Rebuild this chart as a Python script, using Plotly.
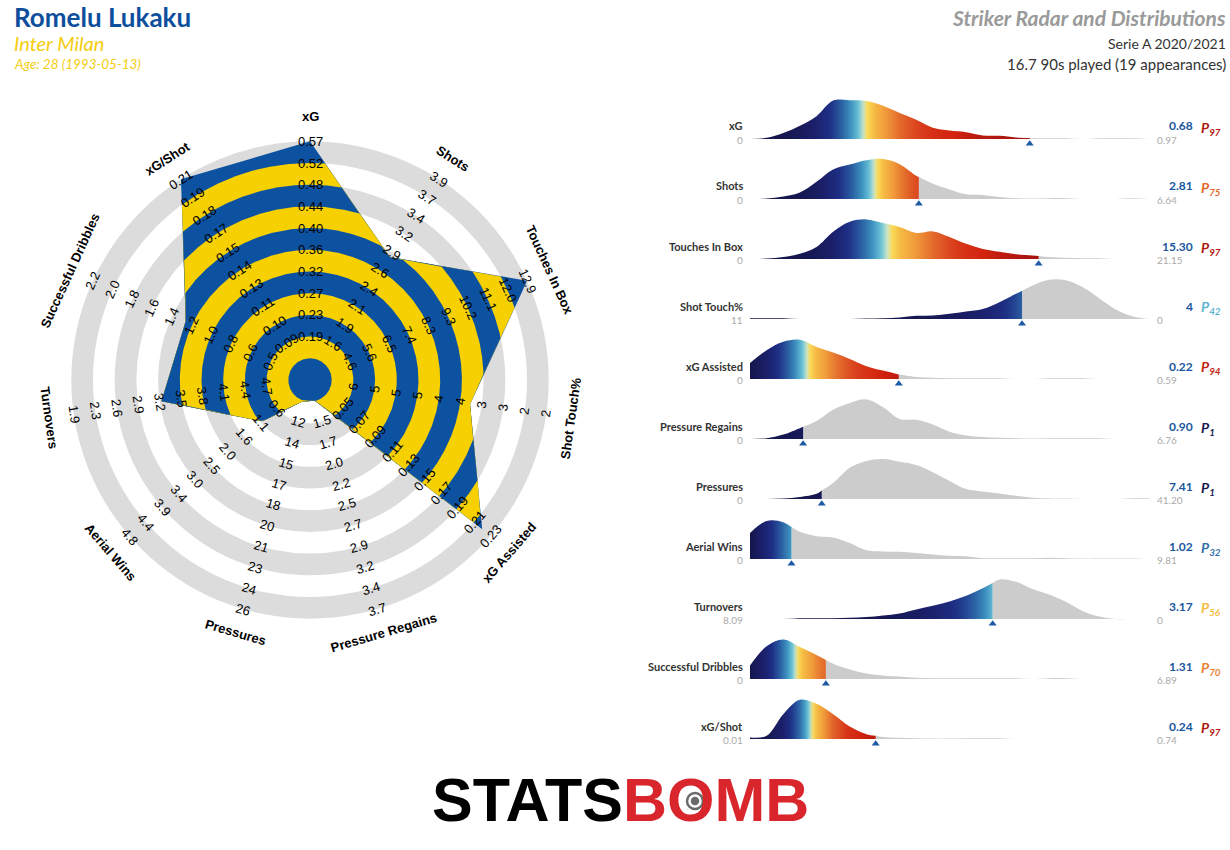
import numpy as np
import plotly.graph_objects as go

W, H = 1230, 850

# ---------------- Radar data ----------------
radar_params = ["xG", "Shots", "Touches In Box", "Shot Touch%", "xG Assisted",
                "Pressure Regains", "Pressures", "Aerial Wins", "Turnovers",
                "Successful Dribbles", "xG/Shot"]
radar_low = [0.15, 1.34, 3.68, 6.4, 0.03, 1.26, 10.4, 0.13, 5.01, 0.31, 0.077]
radar_high = [0.57, 3.9, 12.9, 1.9, 0.23, 3.7, 26.0, 4.8, 1.9, 2.2, 0.21]
player_values = [0.68, 2.81, 15.30, 3.5, 0.22, 0.90, 7.41, 1.02, 3.17, 1.31, 0.24]

ticks_xg = ["0.19", "0.23", "0.27", "0.32", "0.36", "0.40", "0.44", "0.48", "0.52", "0.57"]
ticks_shots = ["1.6", "1.9", "2.1", "2.4", "2.6", "2.9", "3.2", "3.4", "3.7", "3.9"]
ticks_touches = ["4.6", "5.6", "6.5", "7.4", "8.3", "9.3", "10.2", "11.1", "12.0", "12.9"]
ticks_shot_touch = ["6", "5", "5", "5", "4", "4", "3", "3", "2", "2"]
ticks_xga = ["0.05", "0.07", "0.09", "0.11", "0.13", "0.15", "0.17", "0.19", "0.21", "0.23"]
ticks_regains = ["1.5", "1.7", "2.0", "2.2", "2.5", "2.7", "2.9", "3.2", "3.4", "3.7"]
ticks_pressures = ["12", "14", "15", "17", "18", "20", "21", "23", "24", "26"]
ticks_aerial = ["0.6", "1.1", "1.6", "2.0", "2.5", "3.0", "3.4", "3.9", "4.4", "4.8"]
ticks_turnovers = ["4.7", "4.4", "4.1", "3.8", "3.5", "3.2", "2.9", "2.6", "2.3", "1.9"]
ticks_dribbles = ["0.5", "0.6", "0.8", "1.0", "1.2", "1.4", "1.6", "1.8", "2.0", "2.2"]
ticks_xg_shot = ["0.09", "0.10", "0.11", "0.13", "0.14", "0.15", "0.17", "0.18", "0.19", "0.21"]
radar_ticks = [ticks_xg, ticks_shots, ticks_touches, ticks_shot_touch, ticks_xga,
               ticks_regains, ticks_pressures, ticks_aerial, ticks_turnovers,
               ticks_dribbles, ticks_xg_shot]

# ---------------- Distribution data ----------------
dist_left = [0, 0, 0, 11, 0, 0, 0, 0, 8.09, 0, 0.01]
dist_right = [0.97, 6.64, 21.15, 0, 0.59, 6.76, 41.20, 9.81, 0, 6.89, 0.74]
dist_left_labels = ["0", "0", "0", "11", "0", "0", "0", "0", "8.09", "0", "0.01"]
dist_right_labels = ["0.97", "6.64", "21.15", "0", "0.59", "6.76", "41.20", "9.81", "0", "6.89", "0.74"]
value_labels = ["0.68", "2.81", "15.30", "4", "0.22", "0.90", "7.41", "1.02", "3.17", "1.31", "0.24"]
percentiles = [97, 75, 97, 42, 94, 1, 1, 32, 56, 70, 97]

dens_xg = [0, 0.03, 0.15, 0.33, 0.57, 0.96, 0.97, 0.95, 0.83, 0.65, 0.48, 0.28, 0.21, 0.17,
           0.09, 0.08, 0.04, 0.02, 0.02, 0.02, 0.0, 0.02, 0.02, 0.02, 0.0]
dens_shots = [0, 0.01, 0.06, 0.16, 0.43, 0.74, 0.86, 0.97, 1.0, 0.87, 0.58, 0.38, 0.24, 0.12,
              0.10, 0.05, 0.02, 0.01, 0.02, 0.02, 0, 0, 0, 0.02, 0]
dens_touches = [0, 0.01, 0.05, 0.13, 0.30, 0.68, 0.93, 0.99, 0.90, 0.80, 0.65, 0.69, 0.55, 0.38,
                0.25, 0.18, 0.12, 0.09, 0.05, 0.03, 0.02, 0.02, 0.0, 0, 0]
dens_shot_touch = [0.02, 0.02, 0.02, 0, 0, 0, 0, 0.01, 0.02, 0.04, 0.08, 0.09, 0.13, 0.19,
                   0.25, 0.42, 0.63, 0.84, 0.98, 0.97, 0.80, 0.52, 0.24, 0.07, 0]
dens_xga = [0.40, 0.72, 0.93, 0.98, 0.80, 0.66, 0.50, 0.32, 0.21, 0.11, 0.05, 0.03, 0.02, 0.02,
            0.02, 0.02, 0.0, 0.0, 0.02, 0.02, 0.02, 0, 0, 0, 0]
dens_regains = [0, 0.02, 0.11, 0.27, 0.45, 0.73, 0.90, 0.99, 0.80, 0.50, 0.48, 0.36, 0.18, 0.09,
                0.05, 0.03, 0.02, 0.01, 0.02, 0.02, 0.02, 0.02, 0, 0, 0]
dens_pressures = [0, 0, 0.01, 0.05, 0.13, 0.40, 0.78, 0.95, 1.0, 0.93, 0.85, 0.67, 0.45, 0.25,
                  0.19, 0.14, 0.08, 0.03, 0.01, 0.01, 0.0, 0, 0, 0.02, 0.02]
dens_aerial = [0.65, 0.95, 0.92, 0.68, 0.57, 0.54, 0.40, 0.22, 0.19, 0.18, 0.15, 0.11, 0.08, 0.07,
               0.02, 0.02, 0.02, 0.02, 0.03, 0.02, 0.01, 0.01, 0.01, 0.01, 0]
dens_turnovers = [0, 0, 0, 0.02, 0.02, 0.02, 0.03, 0.05, 0.09, 0.14, 0.24, 0.33, 0.44, 0.58,
                  0.77, 0.99, 0.93, 0.75, 0.61, 0.43, 0.20, 0.06, 0.0, 0, 0]
dens_dribbles = [0.34, 0.82, 0.99, 0.80, 0.60, 0.38, 0.24, 0.14, 0.09, 0.06, 0.03, 0.02, 0.02, 0.02,
                 0.02, 0.02, 0.02, 0.0, 0.02, 0.02, 0, 0, 0, 0, 0]
dens_xg_shot = [0.04, 0.08, 0.62, 0.98, 0.88, 0.62, 0.31, 0.12, 0.05, 0.03, 0.02, 0.01, 0.01, 0.02,
                0.02, 0.02, 0, 0, 0, 0, 0, 0, 0, 0, 0]
densities = [dens_xg, dens_shots, dens_touches, dens_shot_touch, dens_xga, dens_regains,
             dens_pressures, dens_aerial, dens_turnovers, dens_dribbles, dens_xg_shot]

# ---------------- Styles ----------------
BLUE = "#0d52a0"
YELLOW = "#f6d000"
RING_GREY = "#dcdcdc"
TEXT_FONT = "Lato"
RADAR_FONT = "Liberation Sans"

cmap_pos = [0.0, 0.10, 0.20, 0.30, 0.38, 0.44, 0.48, 0.51, 0.56, 0.65, 0.75, 0.85, 0.92, 1.0]
cmap_hex = ["#15164b", "#1b1f6a", "#1e2f85", "#2b62a4", "#3f95c2", "#6cc3d5", "#c9e4cd",
            "#fadc5a", "#f6bd45", "#f09a3a", "#e2662a", "#d8391a", "#d2230e", "#9a0f0f"]
cmap_rgb = np.array([[int(h[i:i + 2], 16) for i in (1, 3, 5)] for h in cmap_hex], float)


def cmap(v):
    v = float(np.clip(v, 0, 1))
    r, g, b = (np.interp(v, cmap_pos, cmap_rgb[:, j]) for j in range(3))
    return f"rgb({int(round(r))},{int(round(g))},{int(round(b))})"


fig = go.Figure()
annotations = []
shapes = []

# ---------------- Radar ----------------
RING = 21.7          # px per ring unit
CX, CY = 310, 380    # radar centre (px)
RADAR_W = 615
N = len(radar_params)
theta_deg = np.arange(N) * 360.0 / N
theta = np.radians(theta_deg)

lo = np.array(radar_low)
hi = np.array(radar_high)
vals = np.array(player_values)
r_vert = np.clip(1 + 10 * (vals - lo) / (hi - lo), 1, 11)
vx = r_vert * np.sin(theta)
vy = r_vert * np.cos(theta)

# background rings (grey / white alternating)
for k in range(11, 1, -1):
    shapes.append(dict(type="circle", xref="x", yref="y", x0=-k, x1=k, y0=-k, y1=k,
                       fillcolor=RING_GREY if k % 2 == 1 else "white",
                       line=dict(width=0), layer="below"))

# polygon radius for any direction
phi = np.sort(np.unique(np.concatenate([np.linspace(0, 2 * np.pi, 2201), theta])))
step = 2 * np.pi / N
seg = np.floor(phi / step + 1e-9).astype(int) % N
nxt = (seg + 1) % N
ax_, ay_ = vx[seg], vy[seg]
bx_, by_ = vx[nxt] - ax_, vy[nxt] - ay_
dx_, dy_ = np.sin(phi), np.cos(phi)
rho = (ax_ * by_ - ay_ * bx_) / (dx_ * by_ - dy_ * bx_)

for k in range(10, -1, -1):
    rr = np.minimum(rho, k + 1)
    fig.add_trace(go.Scatter(x=rr * np.sin(phi), y=rr * np.cos(phi), mode="lines",
                             line=dict(width=0), fill="toself",
                             fillcolor=BLUE if k % 2 == 0 else YELLOW,
                             hoverinfo="skip", showlegend=False, xaxis="x", yaxis="y"))


def text_angle(d):
    if d <= 90:
        return d
    if d >= 270:
        return d - 360
    return d - 180


for i in range(N):
    ang = text_angle(theta_deg[i])
    for j, lab in enumerate(radar_ticks[i]):
        rr = j + 2
        annotations.append(dict(x=rr * np.sin(theta[i]), y=rr * np.cos(theta[i]), xref="x", yref="y",
                                text=lab, showarrow=False, textangle=ang,
                                xanchor="center", yanchor="middle",
                                font=dict(family=RADAR_FONT, size=13, color="#000000")))
    rr = 12.15
    annotations.append(dict(x=rr * np.sin(theta[i]), y=rr * np.cos(theta[i]), xref="x", yref="y",
                            text=f"<b>{radar_params[i]}</b>", showarrow=False, textangle=ang,
                            xanchor="center", yanchor="middle",
                            font=dict(family=RADAR_FONT, size=13, color="#000000")))

layout_axes = dict(
    xaxis=dict(domain=[0, RADAR_W / W], range=[-CX / RING, (RADAR_W - CX) / RING],
               visible=False, fixedrange=True),
    yaxis=dict(domain=[0, 1], range=[-(H - CY) / RING, CY / RING], visible=False, fixedrange=True),
)

# ---------------- Distributions ----------------
X0, X1 = 750, 1149
ROW0, ROW_STEP = 139, 60
PEAK = 40.0


def paper(xp, yp):
    return xp / W, 1 - yp / H


for i in range(len(densities)):
    n = i + 2
    base = ROW0 + ROW_STEP * i
    left, right = dist_left[i], dist_right[i]
    layout_axes[f"xaxis{n}"] = dict(domain=[X0 / W, X1 / W], range=[left, right],
                                    visible=False, fixedrange=True, anchor=f"y{n}")
    layout_axes[f"yaxis{n}"] = dict(domain=[1 - (base + 12) / H, 1 - (base - 44) / H],
                                    range=[-12 / PEAK, 44 / PEAK], visible=False,
                                    fixedrange=True, anchor=f"x{n}")
    d = np.array(densities[i], float)
    m = len(d)
    xs = np.linspace(0, 1, m)
    x = left + xs * (right - left)
    seg_area = (d[1:] + d[:-1]) / 2
    cdf = np.concatenate([[0], np.cumsum(seg_area)])
    cdf = cdf / cdf[-1]

    pv = player_values[i]
    t = (pv - left) / (right - left)
    dv = float(np.interp(t, xs, d))
    mask = xs < t
    xc = np.append(x[mask], pv)
    yc = np.append(d[mask], dv)
    xg = np.insert(x[~mask], 0, pv)
    yg = np.insert(d[~mask], 0, dv)

    dlo, dhi = min(left, right), max(left, right)
    u = np.linspace(0, 1, 161)
    tpl = (dlo + u * (dhi - dlo) - left) / (right - left)
    cs = [[float(ui), cmap(c)] for ui, c in zip(u, np.interp(tpl, xs, cdf))]

    fig.add_trace(go.Scatter(x=xg, y=yg, mode="lines", line=dict(width=0, shape="spline"),
                             fill="tozeroy", fillcolor="#cccccc", hoverinfo="skip",
                             showlegend=False, xaxis=f"x{n}", yaxis=f"y{n}"))
    fig.add_trace(go.Scatter(x=xc, y=yc, mode="lines", line=dict(width=0, shape="spline"),
                             fill="tozeroy",
                             fillgradient=dict(type="horizontal", colorscale=cs, start=dlo, stop=dhi),
                             hoverinfo="skip", showlegend=False, xaxis=f"x{n}", yaxis=f"y{n}"))
    fig.add_trace(go.Scatter(x=[pv], y=[-0.12], mode="markers",
                             marker=dict(symbol="triangle-up", size=7, color="#1f5aa6"),
                             hoverinfo="skip", showlegend=False, xaxis=f"x{n}", yaxis=f"y{n}"))

    ax, ay = paper(745, base - 13)
    annotations.append(dict(x=ax, y=ay, xref="paper", yref="paper", xanchor="right", yanchor="middle",
                            text=f"<b>{radar_params[i]}</b>", showarrow=False,
                            font=dict(family=TEXT_FONT, size=11, color="#333333")))
    ax, ay = paper(745, base + 1)
    annotations.append(dict(x=ax, y=ay, xref="paper", yref="paper", xanchor="right", yanchor="middle",
                            text=dist_left_labels[i], showarrow=False,
                            font=dict(family=TEXT_FONT, size=10, color="#aaaaaa")))
    ax, ay = paper(1155, base + 1)
    annotations.append(dict(x=ax, y=ay, xref="paper", yref="paper", xanchor="left", yanchor="middle",
                            text=dist_right_labels[i], showarrow=False,
                            font=dict(family=TEXT_FONT, size=10, color="#aaaaaa")))
    ax, ay = paper(1195, base - 13)
    annotations.append(dict(x=ax, y=ay, xref="paper", yref="paper", xanchor="right", yanchor="middle",
                            text=f"<b>{value_labels[i]}</b>", showarrow=False,
                            font=dict(family=TEXT_FONT, size=12, color="#1a56a0")))
    ax, ay = paper(1199, base - 11)
    annotations.append(dict(x=ax, y=ay, xref="paper", yref="paper", xanchor="left", yanchor="middle",
                            text=f"<b><i>P<sub>{percentiles[i]}</sub></i></b>", showarrow=False,
                            font=dict(family=TEXT_FONT, size=14, color=cmap(percentiles[i] / 100))))

# ---------------- Titles ----------------
tx, ty = paper(12, 17)
annotations.append(dict(x=tx, y=ty, xref="paper", yref="paper", xanchor="left", yanchor="middle",
                        text="<b>Romelu Lukaku</b>", showarrow=False,
                        font=dict(family=TEXT_FONT, size=26, color="#0d4f9c")))
tx, ty = paper(12, 43)
annotations.append(dict(x=tx, y=ty, xref="paper", yref="paper", xanchor="left", yanchor="middle",
                        text="<i>Inter Milan</i>", showarrow=False,
                        font=dict(family=TEXT_FONT, size=20, color="#f4cd10")))
tx, ty = paper(12, 64)
annotations.append(dict(x=tx, y=ty, xref="paper", yref="paper", xanchor="left", yanchor="middle",
                        text="<i>Age: 28 (1993-05-13)</i>", showarrow=False,
                        font=dict(family=TEXT_FONT, size=13.5, color="#f4cd10")))
tx, ty = paper(1228, 18)
annotations.append(dict(x=tx, y=ty, xref="paper", yref="paper", xanchor="right", yanchor="middle",
                        text="<b><i>Striker Radar and Distributions</i></b>", showarrow=False,
                        font=dict(family=TEXT_FONT, size=21, color="#9a9a9a")))
tx, ty = paper(1228, 44)
annotations.append(dict(x=tx, y=ty, xref="paper", yref="paper", xanchor="right", yanchor="middle",
                        text="Serie A 2020/2021", showarrow=False,
                        font=dict(family=TEXT_FONT, size=14, color="#333333")))
tx, ty = paper(1228, 64)
annotations.append(dict(x=tx, y=ty, xref="paper", yref="paper", xanchor="right", yanchor="middle",
                        text="16.7 90s played (19 appearances)", showarrow=False,
                        font=dict(family=TEXT_FONT, size=15, color="#333333")))

# logo
tx, ty = paper(620, 800)
annotations.append(dict(x=tx, y=ty, xref="paper", yref="paper", xanchor="center", yanchor="middle",
                        text='<b>STATS<span style="color:#d9252c">BOMB</span></b>', showarrow=False,
                        font=dict(family="Liberation Sans", size=61, color="#000000")))
OX, OY = 695, 801
for rad, fillc in [(8, None), (3, "#6b6b6b")]:
    shapes.append(dict(type="circle", xref="paper", yref="paper",
                       x0=(OX - rad) / W, x1=(OX + rad) / W, y0=1 - (OY + rad) / H, y1=1 - (OY - rad) / H,
                       line=dict(color="#6b6b6b", width=2.5),
                       fillcolor=fillc if fillc else "rgba(0,0,0,0)", layer="above"))

fig.update_layout(
    width=W, height=H, margin=dict(l=0, r=0, t=0, b=0),
    paper_bgcolor="white", plot_bgcolor="white",
    showlegend=False, hovermode=False,
    annotations=annotations, shapes=shapes,
    **layout_axes,
)

fig.write_html("out.html", config={"displayModeBar": False, "staticPlot": True},
               post_script="document.body.style.margin='0';document.body.style.padding='0';")
